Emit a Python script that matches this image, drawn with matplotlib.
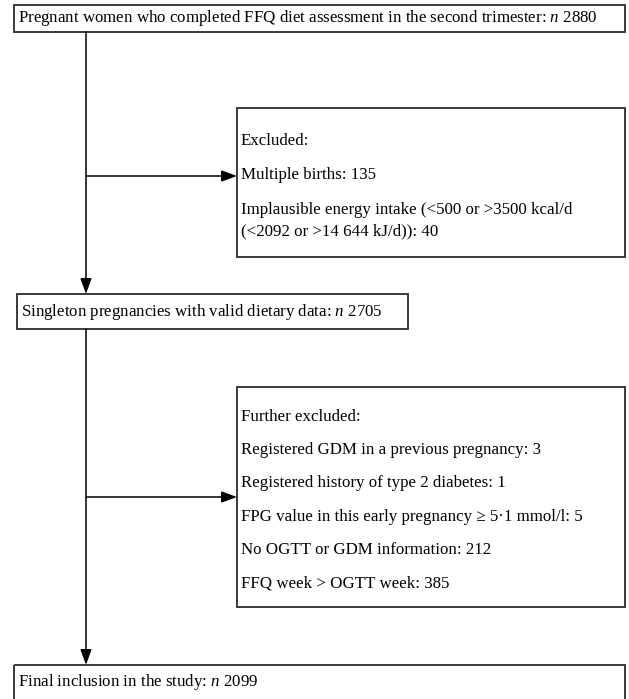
import matplotlib.pyplot as plt
from matplotlib.patches import Rectangle

plt.rcParams['font.family'] = ['Liberation Serif', 'DejaVu Serif']
plt.rcParams['mathtext.fontset'] = 'custom'
plt.rcParams['mathtext.rm'] = 'Liberation Serif'
plt.rcParams['mathtext.it'] = 'Liberation Serif:italic'

# counts in the flow
n_total = 2880
n_singleton = 2705
n_final = 2099

excluded_labels = ["Multiple births", "Implausible energy intake (<500 or >3500 kcal/d\n(<2092 or >14 644 kJ/d))"]
excluded_counts = [135, 40]

further_labels = ["Registered GDM in a previous pregnancy",
                  "Registered history of type 2 diabetes",
                  "FPG value in this early pregnancy \u2265 5\u00b71 mmol/l",
                  "No OGTT or GDM information",
                  "FFQ week > OGTT week"]
further_counts = [3, 1, 5, 212, 385]

W, H = 629, 699
fig = plt.figure(figsize=(W / 100, H / 100), dpi=100)
ax = fig.add_axes([0, 0, 1, 1])
ax.set_xlim(0, W)
ax.set_ylim(H, 0)
ax.axis('off')

fs = 12.2
edge = '#3a3a3a'


def box(x0, y0, x1, y1):
    ax.add_patch(Rectangle((x0, y0), x1 - x0, y1 - y0, fill=False, ec=edge, lw=1.4))


def arrow(x0, y0, x1, y1):
    ax.annotate('', xy=(x1, y1), xytext=(x0, y0),
                arrowprops=dict(arrowstyle='-|>,head_length=0.55,head_width=0.2', color='black', lw=1.1,
                                mutation_scale=17, shrinkA=0, shrinkB=0))


# main column
box(14, 5, 625, 32)
ax.text(18, 18.5, "Pregnant women who completed FFQ diet assessment in the second trimester: $n$ %d" % n_total,
        fontsize=fs, va='center', ha='left')

box(17, 294, 408, 329)
ax.text(21, 311.5, "Singleton pregnancies with valid dietary data: $n$ %d" % n_singleton,
        fontsize=fs, va='center', ha='left')

box(14, 665, 625, 705)
ax.text(18, 682, "Final inclusion in the study: $n$ %d" % n_final,
        fontsize=fs, va='center', ha='left')

lx = 86
arrow(lx, 32, lx, 294)
arrow(lx, 329, lx, 665)

# first exclusion box
box(237, 108, 625, 257)
ax.text(241, 141, "Excluded:", fontsize=fs, va='center', ha='left')
ax.text(241, 175, "%s: %d" % (excluded_labels[0], excluded_counts[0]), fontsize=fs, va='center', ha='left')
ax.text(241, 221, "%s: %d" % (excluded_labels[1], excluded_counts[1]), fontsize=fs, va='center', ha='left',
        linespacing=1.45)
arrow(lx, 176, 237, 176)

# second exclusion box
box(237, 387, 625, 607)
ax.text(241, 417, "Further excluded:", fontsize=fs, va='center', ha='left')
for i, (lab, c) in enumerate(zip(further_labels, further_counts)):
    ax.text(241, 450 + i * 33.3, "%s: %d" % (lab, c), fontsize=fs, va='center', ha='left')
arrow(lx, 497, 237, 497)

fig.savefig('out.png', dpi=100)
